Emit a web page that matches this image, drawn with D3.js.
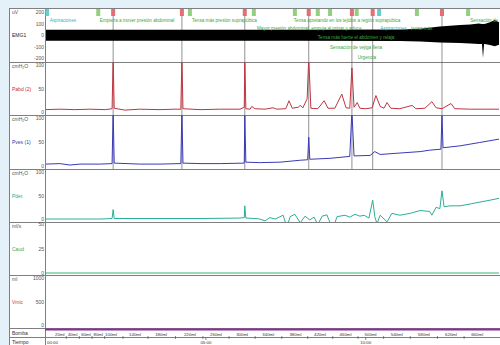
<!DOCTYPE html>
<html><head><meta charset="utf-8">
<script src="https://cdn.jsdelivr.net/npm/d3@7/dist/d3.min.js"></script>
<style>
html,body{margin:0;padding:0;background:#e4f1f9;}
svg{display:block;font-family:"Liberation Sans",Arial,sans-serif;}
</style></head><body>
<svg id="chart" width="500" height="345"></svg>
<script>
// ---- Study data (time in seconds) ----
// EMG envelope: [t, upper µV, lower µV]
const emgEnvelope = [
  [0,45,-50],[101,46,-50],[289,46,-50],[477,46,-51],[664,48,-52],[702,55,-56],
  [739,75,-65],[777,88,-70],[796,92,-74],[812,100,-78],[818,96,-78],[820,96,-200],
  [822,96,-78],[826,100,-80],[833,110,-88],[842,130,-98],[850,110,-84]
];
// Abdominal pressure, cmH2O
const pabd = [
  [0,5],[26,6],[54,5],[83,6],[111,5],[124,7],[126,115],[128,8],[148,4],[176,6],[214,5],
  [242,6],[253,6],[255,115],[257,7],[289,5],[327,6],[364,6],[372,10],[373,115],[375,7],
  [383,6],[386,12],[392,7],[411,6],[426,9],[433,6],[450,7],[456,24],[462,8],[473,10],
  [477,14],[482,9],[490,28],[493,115],[497,8],[510,7],[522,24],[529,8],[542,8],[555,38],
  [563,9],[570,8],[574,94],[578,10],[584,20],[589,8],[600,7],[612,9],[619,35],[627,12],
  [634,8],[640,20],[647,8],[664,7],[687,14],[694,7],[711,8],[724,22],[732,9],[743,7],
  [760,18],[767,7],[796,6],[824,6],[850,6]
];
// Vesical pressure, cmH2O
const pves = [
  [0,4],[26,5],[45,2],[64,4],[101,4],[124,5],[126,115],[128,6],[176,4],[214,4],[253,5],
  [255,115],[257,6],[289,5],[327,5],[372,6],[373,105],[375,8],[401,7],[439,8],[477,12],
  [491,13],[493,60],[495,14],[533,16],[570,20],[574,115],[578,21],[608,22],[617,30],
  [627,24],[664,27],[702,30],[720,33],[741,35],[743,105],[745,38],[777,42],[814,49],[850,56]
];
// Detrusor pressure, cmH2O
const pdet = [
  [0,0],[101,0],[124,1],[126,20],[128,1],[289,1],[364,2],[372,3],[373,28],[375,2],
  [392,1],[401,0],[411,-4],[420,3],[430,0],[445,8],[452,-18],[458,5],[467,10],[477,-8],
  [486,6],[495,-2],[503,4],[510,-12],[518,6],[527,9],[538,-22],[546,5],[561,8],[570,4],
  [580,10],[589,6],[597,8],[606,2],[613,40],[617,5],[621,-10],[627,8],[640,-6],[649,12],
  [664,8],[683,12],[702,18],[720,16],[724,8],[732,25],[739,22],[743,60],[747,26],
  [758,28],[777,28],[796,32],[814,36],[833,40],[850,44]
];
// Urine flow, ml/s
const caudal = [[0,0],[850,0]];

// Event markers
const eventTimes = [126, 255, 373, 493, 574, 613, 743];
const greenFlagTimes = [98, 270, 390, 467, 510, 533, 583, 696, 792];
const cyanFlagTimes = [2, 625];

// Annotations: [t, row, text, kind]
const notes = [
  [7, 0, "Aspiraciones", "c"],
  [101, 0, "Empieza a mover presión abdominal", "g"],
  [274, 0, "Tensa más presión suprapúbica", "g"],
  [465, 0, "Tensa apretando en los tejidos a región suprapúbica", "g"],
  [796, 0, "Sensación de", "g"],
  [396, 1, "Mayor presión abdominal, empuja al orinar y aduce", "g"],
  [627, 1, "Aspiraciones,", "c"],
  [685, 1, "tensa más", "g"],
  [510, 2, "Tensa más fuerte el abdomen y relaja", "g"],
  [533, 3, "Sensación de vejiga llena", "g"],
  [585, 4, "Urgencia", "g"]
];

// Pump volume marks
const bombaVolumes = [20,40,60,80,100,140,180,220,260,300,340,380,420,460,500,540,580,620,660];
const bombaTimes = [26,50,75,98,122,167,216,270,319,368,417,468,514,562,609,658,709,760,809];

// Time axis
const timeTicks = [0, 300, 600];
const timeLabels = ["00:00", "05:00", "10:00"];

// ---- Layout ----
const svg = d3.select("#chart");
const X0 = 46, X1 = 499;
const x = d3.scaleLinear().domain([0, 850]).range([X0, X1]);

const panels = [
  {key:"emg",  top:8,   bottom:62,  unit:"uV",    name:"EMG1",     color:"#222",    domain:[-200,200], ticks:[200,100,0,-100,-200], pad:4},
  {key:"pabd", top:62,  bottom:115, unit:"cmH₂O", name:"Pabd (2)", color:"#c0303c", domain:[0,100], ticks:[100,50,0], pad:3},
  {key:"pves", top:115, bottom:169, unit:"cmH₂O", name:"Pves (1)", color:"#3535a8", domain:[0,100], ticks:[100,50,0], pad:3},
  {key:"pdet", top:169, bottom:222, unit:"cmH₂O", name:"Pdet",     color:"#2aa98f", domain:[0,100], ticks:[100,50,0], pad:3},
  {key:"caud", top:222, bottom:275, unit:"ml/s",  name:"Caud",     color:"#3aa95a", domain:[0,50],  ticks:[50,25,0], pad:2},
  {key:"vmic", top:275, bottom:328, unit:"ml",    name:"Vmic",     color:"#d03a3a", domain:[0,1000], ticks:[1000,500,0], pad:3}
];
panels.forEach(p => {
  p.y = d3.scaleLinear().domain(p.domain).range([p.bottom - p.pad, p.top + p.pad]);
});
const P = Object.fromEntries(panels.map(p => [p.key, p]));

// White chart sheet
svg.append("rect").attr("x", 9).attr("y", 8).attr("width", 491).attr("height", 337).attr("fill", "#fff");

// Clip paths per panel
const defs = svg.append("defs");
panels.forEach(p => {
  defs.append("clipPath").attr("id", "clip-" + p.key)
    .append("rect").attr("x", X0 - 1).attr("y", p.top + 0.5)
    .attr("width", 500 - X0 + 1).attr("height", p.bottom - p.top - 0.5);
});

// Grid frame
const frame = svg.append("g").attr("stroke", "#7f7f7f").attr("stroke-width", 1);
[8, 62, 115, 169, 222, 275, 328, 337].forEach(yy => {
  frame.append("line").attr("x1", 9).attr("x2", 500).attr("y1", yy + 0.5).attr("y2", yy + 0.5);
});
frame.append("line").attr("x1", 9.5).attr("x2", 9.5).attr("y1", 8).attr("y2", 345);
frame.append("line").attr("x1", 45.5).attr("x2", 45.5).attr("y1", 8).attr("y2", 345);

// Panel labels
const lab = svg.append("g").attr("font-size", 5);
panels.forEach(p => {
  lab.append("text").attr("x", 12).attr("y", p.top + 5.5).attr("fill", "#555").text(p.unit);
  const mid = (p.top + p.bottom) / 2;
  lab.append("text").attr("x", 12).attr("y", p.key === "emg" ? p.y(0) + 2 : mid + 2)
    .attr("fill", p.color).text(p.name);
  p.ticks.forEach(v => {
    lab.append("text").attr("x", 44).attr("y", p.y(v) + 2).attr("text-anchor", "end")
      .attr("fill", "#555").text(v);
  });
});
lab.append("text").attr("x", 12).attr("y", 334.5).attr("fill", "#333").text("Bomba");
lab.append("text").attr("x", 12).attr("y", 343.5).attr("fill", "#333").text("Tiempo");

// Event marker lines down through the pressure panels
svg.append("g").selectAll("line").data(eventTimes).join("line")
  .attr("x1", d => x(d)).attr("x2", d => x(d))
  .attr("y1", 16).attr("y2", 169)
  .attr("stroke", "#555").attr("stroke-width", 0.8).attr("opacity", 0.8);

// EMG envelope
svg.append("path").datum(emgEnvelope)
  .attr("clip-path", "url(#clip-emg)")
  .attr("fill", "#000")
  .attr("d", d3.area().x(d => x(d[0])).y0(d => P.emg.y(d[2])).y1(d => P.emg.y(d[1])));

// Pressure and flow traces
const line = (panel) => d3.line().x(d => x(d[0])).y(d => panel.y(d[1]));
[["pabd", pabd, "#bf3440"], ["pves", pves, "#3a3ab4"], ["pdet", pdet, "#2aae96"], ["caud", caudal, "#3cb371"]]
  .forEach(([k, data, c]) => {
    svg.append("path").datum(data)
      .attr("clip-path", "url(#clip-" + k + ")")
      .attr("fill", "none").attr("stroke", c).attr("stroke-width", 1)
      .attr("stroke-linejoin", "round")
      .attr("d", line(P[k]));
  });

// Annotations
const rowY = [21.5, 29.5, 39, 49, 58.5];
svg.append("g").attr("font-size", 4.6).selectAll("text").data(notes).join("text")
  .attr("x", d => x(d[0])).attr("y", d => rowY[d[1]])
  .attr("fill", d => d[3] === "c" ? "#2fb5c0" : "#3aa83a")
  .text(d => d[2]);

// Flags
const flags = svg.append("g");
const drawFlags = (times, fill) => {
  flags.append("g").selectAll("rect").data(times).join("rect")
    .attr("x", d => x(d) - 2).attr("y", 9).attr("width", 4).attr("height", 7)
    .attr("fill", fill).attr("opacity", 0.85);
};
drawFlags(eventTimes, "#e2535a");
drawFlags(greenFlagTimes, "#7cc86a");
drawFlags(cyanFlagTimes, "#4cc6c6");

// Pump row
svg.append("line").attr("x1", 45).attr("x2", 500).attr("y1", 329.5).attr("y2", 329.5)
  .attr("stroke", "#8e2a9a").attr("stroke-width", 2.2);
const bomba = svg.append("g").attr("font-size", 4.4).attr("fill", "#333");
bomba.selectAll("text").data(bombaVolumes).join("text")
  .attr("x", (d, i) => x(bombaTimes[i])).attr("y", 335.5).attr("text-anchor", "middle")
  .text(d => d + "ml");
const mids = d3.pairs(bombaTimes).map(([a, b]) => (a + b) / 2);
bomba.selectAll("line").data(mids).join("line")
  .attr("x1", d => x(d)).attr("x2", d => x(d)).attr("y1", 336).attr("y2", 339)
  .attr("stroke", "#444").attr("stroke-width", 0.6);

// Time axis
const tAxis = svg.append("g").attr("font-size", 4.4).attr("fill", "#333");
timeTicks.forEach((t, i) => {
  if (t > 0) {
    tAxis.append("line").attr("x1", x(t)).attr("x2", x(t)).attr("y1", 337).attr("y2", 340)
      .attr("stroke", "#444").attr("stroke-width", 0.6);
  }
  tAxis.append("text").attr("x", t === 0 ? x(t) + 1 : x(t)).attr("y", 344)
    .attr("text-anchor", t === 0 ? "start" : "middle").text(timeLabels[i]);
});
</script>
</body></html>
